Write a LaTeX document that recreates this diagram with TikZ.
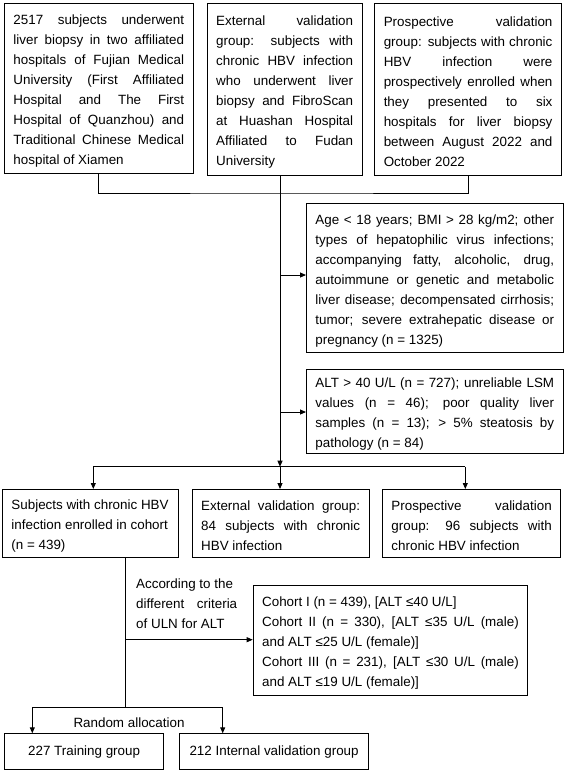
\documentclass[tikz,border=0pt]{standalone}
\usepackage{fontspec}
\setmainfont{Liberation Sans}
\usetikzlibrary{arrows.meta}
\newcommand{\jl}[1]{\hbox to\hsize{#1}}
\newcommand{\rl}[1]{\hbox{#1}}
\newcommand{\tk}{\rule{0pt}{14.7pt}}
\begin{document}
\begin{tikzpicture}[x=1pt,y=-1pt,
  txt/.style={font=\fontsize{13.4}{20}\selectfont},
  box/.style={txt, draw, line width=0.9pt, anchor=north west, inner xsep=9pt, inner ysep=0pt, align=justify},
  cbox/.style={txt, draw, line width=0.9pt, anchor=north west, inner sep=0pt, align=center},
  ln/.style={line width=0.9pt},
  arr/.style={line width=0.9pt, -{Triangle[length=6pt,width=5pt]}}]
\useasboundingbox (0,0) rectangle (566,774);

% top row
\node[box, text width=170.7pt, minimum height=169.4pt] (b1) at (4,3.3)
  {\tk\jl{2517 subjects underwent}
   \jl{liver biopsy in two affiliated}
   \jl{hospitals of Fujian Medical}
   \jl{University (First Affiliated}
   \jl{Hospital and The First}
   \jl{Hospital of Quanzhou) and}
   \jl{Traditional Chinese Medical}
   \rl{hospital of Xiamen}};
\node[box, text width=137pt, minimum height=171.7pt] (b2) at (206.7,3.3)
  {\tk\jl{External validation}
   \jl{group: subjects with}
   \jl{chronic HBV infection}
   \jl{who underwent liver}
   \jl{biopsy and FibroScan}
   \jl{at Huashan Hospital}
   \jl{Affiliated to Fudan}
   \rl{University}};
\node[box, text width=168.7pt, minimum height=171.7pt] (b3) at (374.3,3.3)
  {\tk\jl{Prospective validation}
   \jl{group: subjects with chronic}
   \jl{HBV infection were}
   \jl{prospectively enrolled when}
   \jl{they presented to six}
   \jl{hospitals for liver biopsy}
   \jl{between August 2022 and}
   \rl{October 2022}};

% exclusion boxes
\node[box, text width=238.7pt, minimum height=149pt] (b4) at (306,203.3)
  {\tk\jl{Age < 18 years; BMI > 28 kg/m2; other}
   \jl{types of hepatophilic virus infections;}
   \jl{accompanying fatty, alcoholic, drug,}
   \jl{autoimmune or genetic and metabolic}
   \jl{liver disease; decompensated cirrhosis;}
   \jl{tumor; severe extrahepatic disease or}
   \rl{pregnancy (n = 1325)}};
\node[box, text width=238.7pt, minimum height=83.7pt] (b5) at (306,369)
  {\tk\jl{ALT > 40 U/L (n = 727); unreliable LSM}
   \jl{values (n = 46); poor quality liver}
   \jl{samples (n = 13); > 5\% steatosis by}
   \rl{pathology (n = 84)}};

% middle row
\node[box, text width=158pt, minimum height=68pt] (b6) at (2,489)
  {\tk\rl{Subjects with chronic HBV}
   \rl{infection enrolled in cohort}
   \rl{(n = 439)}};
\node[box, text width=159pt, minimum height=68pt] (b7) at (191.7,489)
  {\tk\jl{External validation group:}
   \jl{84 subjects with chronic}
   \rl{HBV infection}};
\node[box, text width=160.3pt, minimum height=68pt] (b8) at (382,489)
  {\tk\jl{Prospective validation}
   \jl{group: 96 subjects with}
   \rl{chronic HBV infection}};

% cohort box
\node[box, text width=256.6pt, minimum height=110pt] (b9) at (252.7,585)
  {\tk\rl{Cohort I (n = 439), [ALT ≤40 U/L]}
   \jl{Cohort II (n = 330), [ALT ≤35 U/L (male)}
   \rl{and ALT ≤25 U/L (female)]}
   \jl{Cohort III (n = 231), [ALT ≤30 U/L (male)}
   \rl{and ALT ≤19 U/L (female)]}};

\node[txt, anchor=north west, inner sep=0pt, text width=101pt, align=justify] (lab1) at (136,578.6)
  {\rl{According to the}
   \jl{different criteria}
   \rl{of ULN for ALT}};

% bottom boxes
\node[cbox, minimum width=159.3pt, minimum height=35.7pt] (b10) at (4,733.3) {227 Training group};
\node[cbox, minimum width=189.3pt, minimum height=35.7pt] (b11) at (179,733.3) {212 Internal validation group};
\node[txt, inner sep=0pt] (lab2) at (129,723) {Random allocation};

% connectors
\coordinate (j1) at (280,193);
\coordinate (j2) at (280,466.7);
\draw[ln] (b1.south) |- (j1) -| (b3.south);
\draw[arr] (b2.south -| j1) -- (j2);
\coordinate (m4) at (280,275);
\coordinate (m5) at (280,412);
\draw[arr] (m4) -- (m4 -| b4.west);
\draw[arr] (m5) -- (m5 -| b5.west);
\coordinate (sl) at (93.3,466.7);
\coordinate (sr) at (465.3,466.7);
\draw[ln] (sl) -- (sr);
\draw[arr] (sl) -- (sl |- b6.north);
\draw[arr] (j2) -- (j2 |- b7.north);
\draw[arr] (sr) -- (sr |- b8.north);
\coordinate (c6) at (125,557);
\coordinate (k) at (125,707.3);
\draw[ln] (c6 |- b6.south) -- (k);
\coordinate (m9) at (125,639.7);
\draw[arr] (m9) -- (m9 -| b9.west);
\coordinate (kl) at (32.3,707.3);
\coordinate (kr) at (222.7,707.3);
\draw[ln] (kl) -- (kr);
\draw[arr] (kl) -- (kl |- b10.north);
\draw[arr] (kr) -- (kr |- b11.north);
\end{tikzpicture}
\end{document}
